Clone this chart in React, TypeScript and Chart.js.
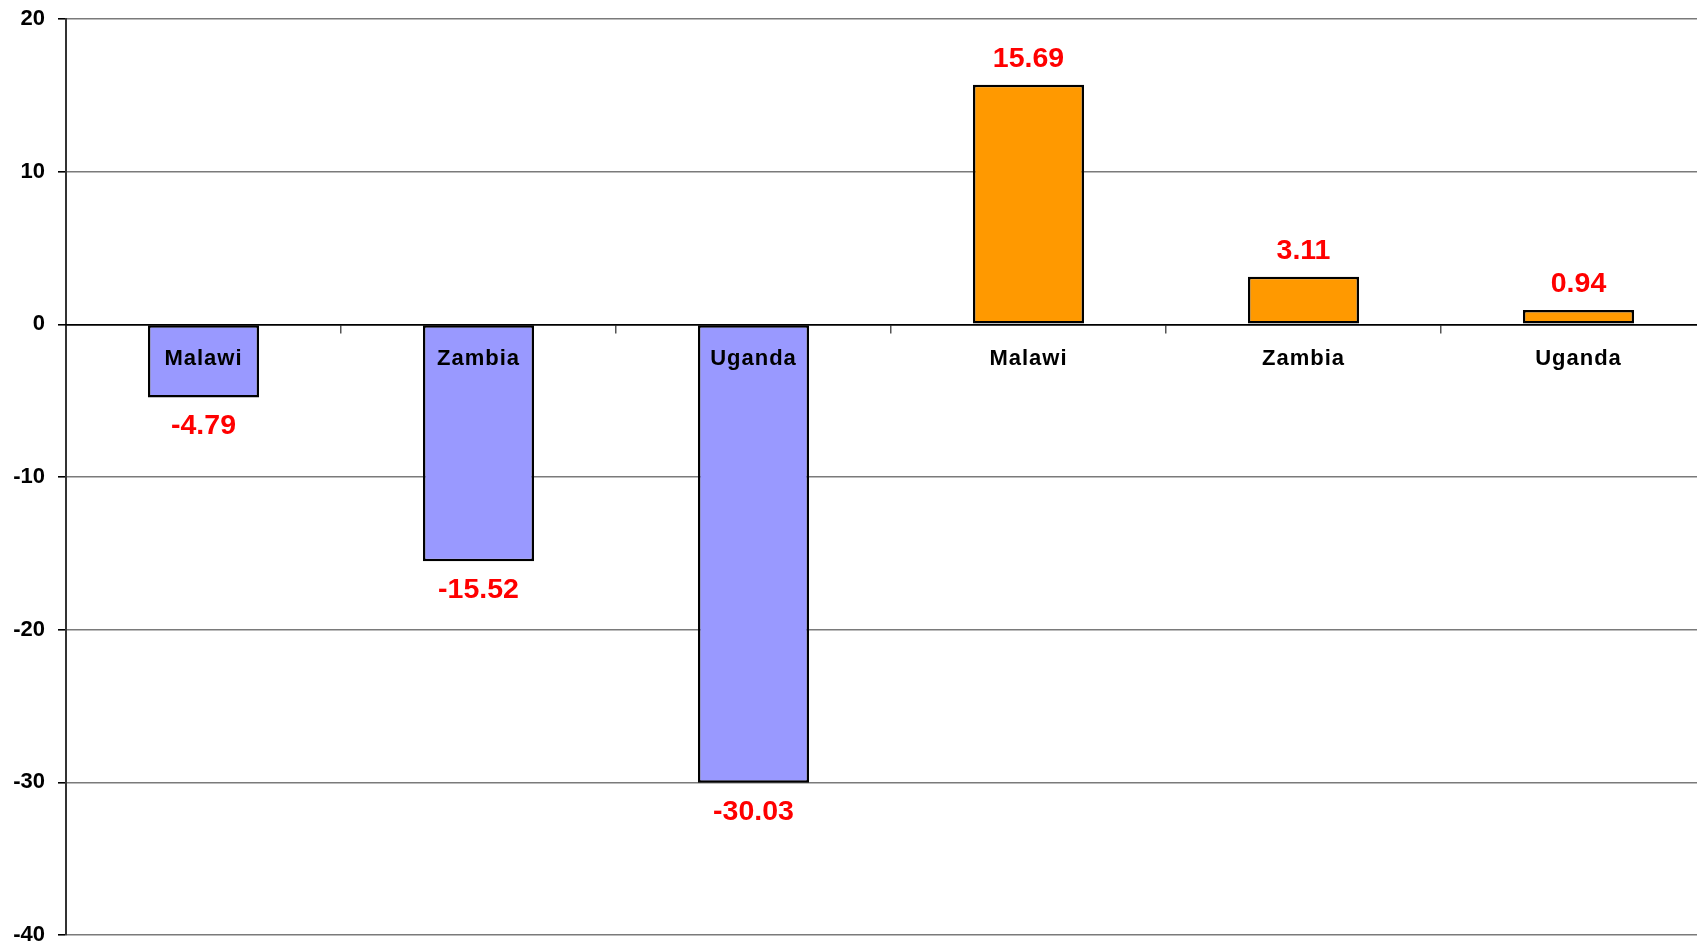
import React, { useEffect, useRef } from "react";
import { Chart, registerables } from "chart.js";

Chart.register(...registerables);

const categories = ["Malawi", "Zambia", "Uganda", "Malawi", "Zambia", "Uganda"];
const values = [-4.79, -15.52, -30.03, 15.69, 3.11, 0.94];
const barColors = ["#9999FF", "#9999FF", "#9999FF", "#FF9900", "#FF9900", "#FF9900"];
const yMin = -40;
const yMax = 20;
const yStep = 10;

const FONT = "'Liberation Sans', Arial, Helvetica, sans-serif";

const valueLabelPlugin = {
  id: "valueLabels",
  afterDatasetsDraw(chart: any) {
    const ctx = chart.ctx;
    const meta = chart.getDatasetMeta(0);
    ctx.save();
    ctx.font = `bold 28.5px ${FONT}`;
    ctx.fillStyle = "#FF0000";
    ctx.textAlign = "center";
    ctx.textBaseline = "alphabetic";
    meta.data.forEach((bar: any, i: number) => {
      const v = values[i];
      const y = v >= 0 ? bar.y - 18 : bar.y + 37;
      ctx.fillText(v.toFixed(2), bar.x, y);
    });
    ctx.restore();
    // letter spacing for the category labels drawn in the next (z=1) layer
    (ctx as any).letterSpacing = "1px";
  },
  afterDraw(chart: any) {
    (chart.ctx as any).letterSpacing = "0px";
  },
};

export default function App() {
  const ref = useRef<HTMLCanvasElement | null>(null);
  useEffect(() => {
    if (!ref.current) return;
    const chart = new Chart(ref.current, {
      type: "bar",
      data: {
        labels: categories,
        datasets: [
          {
            data: values,
            backgroundColor: barColors,
            borderColor: "#000000",
            borderWidth: 2.5,
            borderSkipped: false,
            categoryPercentage: 1,
            barPercentage: 0.404,
          },
        ],
      },
      options: {
        animation: false,
        responsive: false,
        devicePixelRatio: 1,
        layout: { padding: { top: 19, bottom: 11, left: 0, right: 14 } },
        plugins: {
          legend: { display: false },
          tooltip: { enabled: false },
        },
        scales: {
          x: {
            position: { y: 0 } as any,
            offset: true,
            grid: {
              offset: true,
              drawOnChartArea: false,
              drawTicks: true,
              tickLength: 8,
              tickColor: "#555555",
              lineWidth: 1.5,
            },
            border: { display: true, color: "#000000", width: 1.5, z: 1 },
            ticks: {
              z: 1,
              color: "#000000",
              font: { family: FONT, size: 22, weight: "bold" },
              padding: 13,
              maxRotation: 0,
              autoSkip: false,
            },
            afterFit(scale: any) {
              scale.height = 0;
              scale.paddingTop = 0;
              scale.paddingBottom = 0;
            },
          },
          y: {
            min: yMin,
            max: yMax,
            grid: {
              color: (c: any) => (c.tick && c.tick.value === 0 ? "#000000" : "#7a7a7a"),
              lineWidth: 1.6,
              drawTicks: true,
              tickLength: 8,
              tickColor: "#000000",
            },
            border: { display: true, color: "#333333", width: 2 },
            ticks: {
              stepSize: yStep,
              color: "#000000",
              font: { family: FONT, size: 22, weight: "bold" },
              padding: 13,
            },
            afterFit(scale: any) {
              scale.width = 66;
              scale.paddingTop = 0;
              scale.paddingBottom = 0;
            },
          },
        },
      },
      plugins: [valueLabelPlugin],
    });
    return () => chart.destroy();
  }, []);
  return (
    <div
      style={{
        position: "fixed",
        left: 0,
        top: 0,
        width: 1697,
        height: 946,
        overflow: "hidden",
        background: "#ffffff",
      }}
    >
      <canvas ref={ref} width={1730} height={946} style={{ display: "block" }} />
    </div>
  );
}
